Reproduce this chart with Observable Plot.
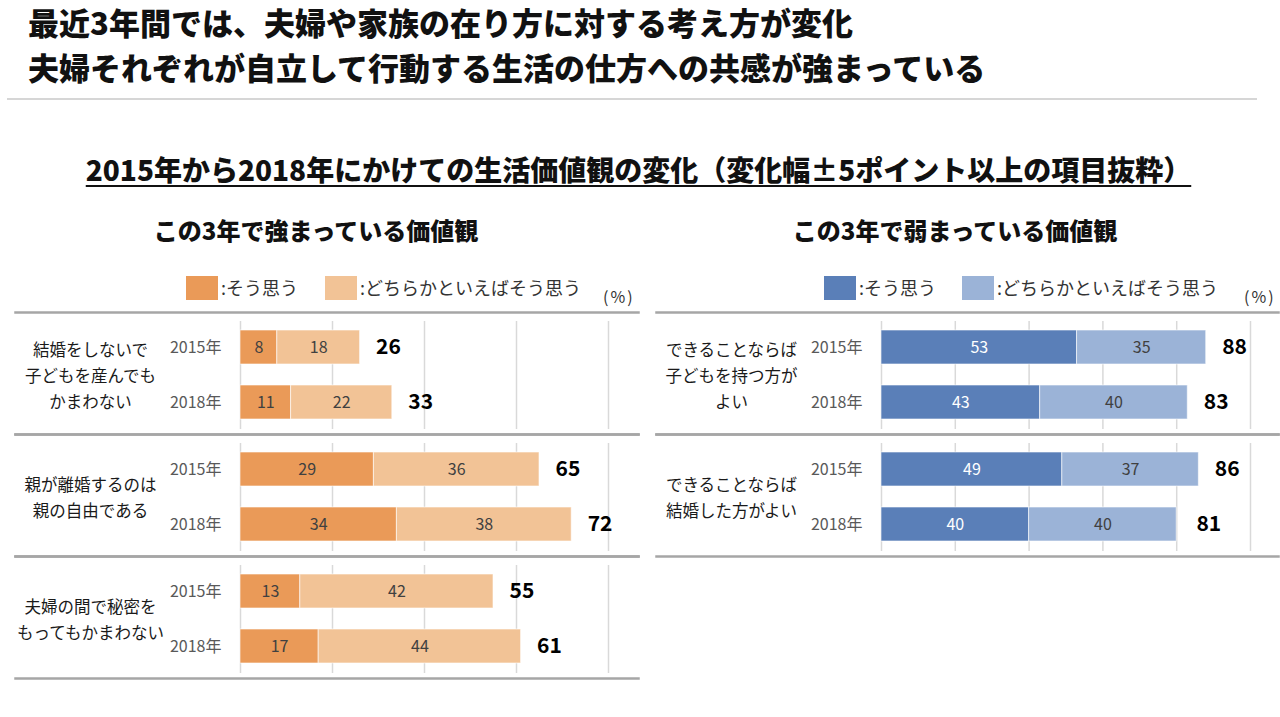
<!DOCTYPE html>
<html><head><meta charset="utf-8">
<script src="https://cdn.jsdelivr.net/npm/d3@7"></script>
<script src="https://cdn.jsdelivr.net/npm/@observablehq/plot@0.6"></script>
<style>
body{margin:0;width:1280px;height:717px;background:#fff;position:relative;overflow:hidden;font-family:'Noto Sans CJK JP','Noto Sans',sans-serif;}
.abs{position:absolute;white-space:nowrap;line-height:1;}
.title{left:28px;font-size:31px;font-weight:900;color:#111;}
.sub{left:0;width:1277px;text-align:center;font-size:28px;font-weight:900;color:#111;text-decoration:underline;text-decoration-thickness:2px;text-underline-offset:4px;}
.ptitle{font-size:24px;font-weight:900;color:#111;width:640px;text-align:center;}
.sw{width:32px;height:24px;top:276px;}
.lg{font-size:18px;color:#333;top:278px;}
.pct{font-size:16px;color:#333;top:288px;letter-spacing:2px;}
</style></head><body>
<div class="abs title" style="top:6px">最近3年間では、夫婦や家族の在り方に対する考え方が変化</div>
<div class="abs title" style="top:51px">夫婦それぞれが自立して行動する生活の仕方への共感が強まっている</div>
<div class="abs" style="left:7px;top:98px;width:1250px;height:2px;background:#d6d6d6"></div>
<div class="abs sub" style="top:155px">2015年から2018年にかけての生活価値観の変化（変化幅±5ポイント以上の項目抜粋）</div>
<div class="abs ptitle" style="left:-4px;top:218px">この3年で強まっている価値観</div>
<div class="abs ptitle" style="left:635px;top:218px">この3年で弱まっている価値観</div>
<div id="legendUp"></div>
<div id="legendDown"></div>
<div class="abs pct" style="left:603px">(%)</div>
<div class="abs pct" style="left:1244px">(%)</div>
<div id="up" class="abs" style="left:0;top:310px"></div>
<div id="down" class="abs" style="left:640px;top:310px"></div>
<script>
const years = ["2015年", "2018年"];
const answers = ["そう思う", "どちらかといえばそう思う"];

const upCategories = ["結婚をしないで\n子どもを産んでも\nかまわない", "親が離婚するのは\n親の自由である", "夫婦の間で秘密を\nもってもかまわない"];
const upAgree = [[8, 11], [29, 34], [13, 17]];
const upSomewhat = [[18, 22], [36, 38], [42, 44]];
const upTotal = [[26, 33], [65, 72], [55, 61]];
const upTicks = [0, 20, 40, 60, 80];

const downCategories = ["できることならば\n子どもを持つ方が\nよい", "できることならば\n結婚した方がよい"];
const downAgree = [[53, 43], [49, 40]];
const downSomewhat = [[35, 40], [37, 40]];
const downTotal = [[88, 83], [86, 81]];
const downTicks = [0, 20, 40, 60, 80, 100];

const upColors = ["#EA9A58", "#F2C396"];
const downColors = ["#5A7FB8", "#9BB3D7"];
const upLabelColors = ["#404040", "#404040"];
const downLabelColors = ["#ffffff", "#404040"];

function legend(id, colors, x1, x2) {
  const el = document.getElementById(id);
  const xs = [x1, x2];
  answers.forEach((a, i) => {
    const s = document.createElement("div");
    s.className = "abs sw"; s.style.left = xs[i] + "px"; s.style.background = colors[i];
    el.appendChild(s);
    const t = document.createElement("div");
    t.className = "abs lg"; t.style.left = (xs[i] + 35) + "px"; t.textContent = ":" + a;
    el.appendChild(t);
  });
}
legend("legendUp", upColors, 186, 325);
legend("legendDown", downColors, 824, 962);

function panel({cats, agree, somewhat, total, colors, labelColors, ticks, xMax, marginLeft, marginRight, lineRight}) {
  const rows = cats.flatMap((c, i) => years.flatMap((y, j) => [
    {cat: c, year: y, k: 0, value: agree[i][j]},
    {cat: c, year: y, k: 1, value: somewhat[i][j]}
  ]));
  const totals = cats.flatMap((c, i) => years.map((y, j) => ({cat: c, year: y, total: total[i][j]})));
  const yearRows = cats.flatMap(c => years.map(y => ({cat: c, year: y})));
  const sep = {stroke: "#a6a6a6", strokeWidth: 2.5, insetLeft: -225, insetRight: lineRight};
  return Plot.plot({
    width: 640,
    height: 2 + cats.length * 122 + 4,
    marginTop: 2, marginBottom: 4, marginLeft, marginRight,
    x: {domain: [0, xMax], axis: null},
    y: {domain: years, axis: null, paddingInner: 0.387, paddingOuter: 0.2925, align: 0.55},
    fy: {domain: cats, axis: null, padding: 0},
    color: {type: "identity"},
    style: {fontFamily: "'Noto Sans CJK JP','Noto Sans',sans-serif", fontSize: "15px", background: "transparent", overflow: "visible"},
    marks: [
      Plot.ruleX(ticks, {stroke: "#d9d9d9", strokeWidth: 1.5, insetTop: 9, insetBottom: 5}),
      Plot.frame({anchor: "top", ...sep}),
      Plot.frame({anchor: "bottom", ...sep}),
      Plot.barX(rows, {x: "value", y: "year", fy: "cat", fill: d => colors[d.k], stroke: "#ffffff", strokeOpacity: 0.6, strokeWidth: 1}),
      Plot.text(rows, Plot.stackX({x: "value", y: "year", fy: "cat", text: "value", fill: d => labelColors[d.k], fontSize: 16})),
      Plot.text(totals, {x: "total", y: "year", fy: "cat", text: "total", textAnchor: "start", dx: 16, fontSize: 21, fontWeight: "bold", fill: "#000000"}),
      Plot.text(yearRows, {y: "year", fy: "cat", text: "year", frameAnchor: "left", textAnchor: "end", dx: -19, fontSize: 16, fill: "#595959"}),
      Plot.text(cats, {fy: d => d, text: d => d, frameAnchor: "left", textAnchor: "middle", dx: -150, lineHeight: 1.6, fontSize: 16.5, fill: "#1a1a1a"})
    ]
  });
}

document.getElementById("up").appendChild(panel({
  cats: upCategories, agree: upAgree, somewhat: upSomewhat, total: upTotal,
  colors: upColors, labelColors: upLabelColors, ticks: upTicks, xMax: 80,
  marginLeft: 240, marginRight: 32, lineRight: -30
}));
document.getElementById("down").appendChild(panel({
  cats: downCategories, agree: downAgree, somewhat: downSomewhat, total: downTotal,
  colors: downColors, labelColors: downLabelColors, ticks: downTicks, xMax: 100,
  marginLeft: 241, marginRight: 30, lineRight: -28
}));
</script>
</body></html>
